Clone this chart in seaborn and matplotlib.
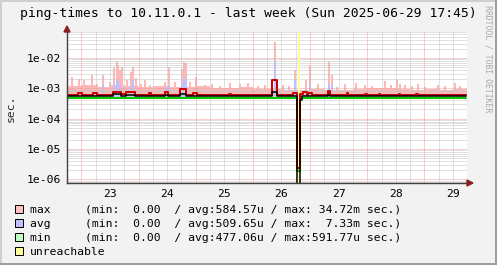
import numpy as np
import pandas as pd
import matplotlib
matplotlib.use("Agg")
import matplotlib.pyplot as plt
from matplotlib.patches import Rectangle, Polygon
import seaborn as sns

# ---------------- data ----------------
TITLE = "ping-times to 10.11.0.1 - last week (Sun 2025-06-29 17:45)"
Y_LABEL = "sec."
WATERMARK = "RRDTOOL / TOBI OETIKER"

# time axis: fractional day of month (June 2025)
span_start = 22.748
span_end = 29.745
day_labels = ["23", "24", "25", "26", "27", "28", "29"]
y_decades = [1e-6, 1e-5, 1e-4, 1e-3, 1e-2]
y_decade_labels = ["1e-06", "1e-05", "1e-04", "1e-03", "1e-02"]

# consolidated lines, step series (change time [day], value [µs]; nan = unknown)
max_days = [22.748, 22.94, 23.01, 23.20, 23.27, 23.55, 23.70, 23.78, 23.93, 24.18, 24.22,
            24.46, 24.51, 24.72, 24.83, 24.95, 25.02, 25.58, 25.62, 26.33, 26.42, 26.70,
            26.77, 26.785, 26.83, 26.87, 26.94, 26.96, 27.03, 27.31, 27.34, 27.64, 27.67, 27.96,
            27.99, 28.20, 28.23, 28.55, 28.58, 28.85, 28.88, 29.72]
max_us = [620, 720, 620, 700, 620, 760, 650, 740, 620, 680, 620,
          760, 620, 950, 620, 700, 620, 660, 620, 1880, 620, 700,
          2.3, np.nan, 640, 770, 620, 690, 620, 830, 620, 680, 620, 660,
          620, 670, 620, 670, 620, 660, 620, 620]

avg_days = [22.748, 23.55, 23.70, 23.78, 23.93, 24.46, 24.51, 24.72, 24.83, 26.33, 26.42,
            26.77, 26.785, 26.83, 26.85, 27.31, 27.34, 29.72]
avg_us = [545, 640, 560, 620, 545, 600, 545, 650, 545, 740, 545,
          0.1, np.nan, 410, 545, 600, 545, 545]

min_days = [22.748, 26.77, 26.785, 26.83, 29.72]
min_us = [470, 1.8, np.nan, 470, 470]

# raw max background level, 6-hour blocks starting 22.75
fuzz_start = 22.75
fuzz_hours = 6
fuzz_us = [1150, 1250, 1100, 1300, 1150, 1100, 1200, 1100, 1100, 1150, 1050, 1000, 1100, 950,
           950, 900, 900, 950, 880, 900, 950, 1000, 1000, 950, 900, 950, 900, 950]

# raw spikes (time [day], raw max [µs], raw avg [µs], 0 = not visible)
spike_days = [22.836, 22.958, 23.045, 23.115, 23.185, 23.273, 23.378, 23.5, 23.570, 23.614,
              23.640, 23.675, 23.710, 23.797, 23.867, 23.911, 23.955, 24.042, 24.112, 24.199,
              24.339, 24.462, 24.531, 24.636, 24.753, 24.794, 24.837, 24.899, 25.003, 25.161,
              25.283, 25.423, 25.598, 25.773, 25.913, 26.087, 26.210, 26.385, 26.524, 26.629,
              26.734, 26.927, 27.005, 27.136, 27.329, 27.381, 27.469, 27.608, 27.801, 27.958,
              28.080, 28.308, 28.413, 28.512, 28.570, 28.657, 28.780, 28.885, 29.007, 29.234,
              29.357, 29.531, 29.619]
spike_max_us = [2400, 2000, 1900, 1300, 2750, 1400, 2750, 1600, 5000, 8000,
                6000, 4000, 5000, 1900, 3500, 5000, 2200, 1400, 1900, 1300,
                1200, 1600, 5000, 1600, 4300, 7100, 6800, 1600, 2360, 1300,
                1400, 1150, 1500, 1400, 1500, 1200, 1300, 34720, 1300, 1200,
                4000, 1900, 5400, 1350, 7400, 2750, 1100, 1350, 1500, 1300,
                1150, 1700, 1300, 1900, 1350, 1300, 1150, 1350, 1100, 1250,
                1150, 1500, 1150]
spike_avg_us = [0, 0, 0, 0, 0, 0, 1300, 0, 1500, 1900,
                1700, 1300, 0, 0, 1200, 1900, 0, 0, 0, 0,
                0, 1100, 1200, 0, 1500, 1900, 2300, 0, 0, 0,
                0, 0, 0, 0, 0, 0, 0, 7330, 0, 0,
                1900, 0, 1500, 0, 1400, 1300, 0, 0, 0, 0,
                0, 0, 0, 0, 0, 0, 0, 0, 0, 0,
                0, 0, 0]

unreach_start = 26.785
unreach_end = 26.83

legend_names = ["max", "avg", "min", "unreachable"]
stat_min = ["0.00", "0.00", "0.00"]
stat_avg = ["584.57u", "509.65u", "477.06u"]
stat_max = ["34.72m", "7.33m", "591.77u"]

# ---------------- style ----------------
C_BACK = "#F2F2F2"
C_MAX_AREA = "#FFC0C0"
C_MAX_FILL = "#FFB8B8"
C_AVG_AREA = "#C0C0FF"
C_MIN_AREA = "#C0FFC0"
C_UNREACH = "#FFFF99"
C_MAX_LINE = "#CC0000"
C_AVG_LINE = "#000000"
C_MIN_LINE = "#00CC00"
C_GRID = "#C4C4C4"
C_MGRID = "#EEA0A0"
C_AXIS = "#404040"
C_ARROW = "#8B2020"

sns.set_style("white")
plt.rcParams["font.family"] = ["DejaVu Sans Mono"]
FS = 8.2

W, H = 497, 265
fig = plt.figure(figsize=(W / 100, H / 100), dpi=100, facecolor=C_BACK)

def fx(px):
    return px / W

def fy(py):
    return (H - py) / H

ax = fig.add_axes([fx(67), fy(183), 400 / W, 151 / H])
ax.set_facecolor("white")
ax.set_yscale("log")
ax.set_xlim(span_start, span_end)
ax.set_ylim(7.5e-7, 7.2e-2)

us = 1e-6

# grid
midnights = list(range(int(np.ceil(span_start)), int(span_end) + 1))
six_h = [t for t in np.arange(np.ceil(span_start * 4) / 4, span_end, 0.25)]
for t in six_h:
    if abs(t - round(t)) > 1e-6:
        ax.axvline(t, color=C_GRID, lw=0.72, ls=(0, (1, 1)), zorder=2.5)
for t in midnights:
    ax.axvline(t, color=C_MGRID, lw=0.72, ls=(0, (1, 1)), zorder=2.6)
minor_y = [k * d for d in [1e-7] + y_decades for k in range(2, 10)]
minor_y = [v for v in minor_y if 7.5e-7 < v < 7.2e-2]
for v in minor_y:
    ax.axhline(v, color=C_GRID, lw=0.72, ls=(0, (1, 1)), zorder=2.5)
for v in y_decades:
    ax.axhline(v, color=C_MGRID, lw=0.72, ls=(0, (1, 1)), zorder=2.6)

# raw max background area
fz_x = list(fuzz_start + np.arange(len(fuzz_us)) * fuzz_hours / 24.0) + [span_end]
fz_y = [v * us for v in fuzz_us] + [fuzz_us[-1] * us]
base = min_us[0] * us
ax.fill_between(fz_x, base, fz_y, step="post", color=C_MAX_FILL, lw=0, zorder=1)

# raw spikes
sd = np.array(spike_days)
ax.vlines(sd, base, np.array(spike_max_us) * us, color=C_MAX_FILL, lw=1.45, zorder=1.1)
sa = np.array(spike_avg_us)
m = sa > 0
ax.vlines(sd[m], base, sa[m] * us, color=C_AVG_AREA, lw=1.45, zorder=1.2)

# consolidated lines
df_min = pd.DataFrame({"day": min_days, "sec": np.array(min_us) * us})
df_max = pd.DataFrame({"day": max_days, "sec": np.array(max_us) * us})
df_avg = pd.DataFrame({"day": avg_days, "sec": np.array(avg_us) * us})
sns.lineplot(data=df_min, x="day", y="sec", ax=ax, color=C_MIN_LINE, lw=1.44,
             drawstyle="steps-post", estimator=None, sort=False, zorder=3)
sns.lineplot(data=df_max, x="day", y="sec", ax=ax, color=C_MAX_LINE, lw=1.44,
             drawstyle="steps-post", estimator=None, sort=False, zorder=3.1)
sns.lineplot(data=df_avg, x="day", y="sec", ax=ax, color=C_AVG_LINE, lw=1.1,
             drawstyle="steps-post", estimator=None, sort=False, zorder=3.2)

# unreachable band
ax.axvspan(unreach_start, unreach_end, color=C_UNREACH, lw=0, zorder=2.9)

# axes / ticks
ax.set_xlabel("")
ax.set_ylabel("")
for s in ["top", "right"]:
    ax.spines[s].set_visible(False)
for s in ["left", "bottom"]:
    ax.spines[s].set_color(C_AXIS)
    ax.spines[s].set_linewidth(1.0)
    ax.spines[s].set_zorder(4)

label_pos = [int(d) + 0.5 for d in day_labels]
ax.set_xticks(label_pos, day_labels)
ax.set_xticks(six_h, minor=True)
ax.set_yticks(y_decades, y_decade_labels)
ax.set_yticks(minor_y, minor=True)
ax.yaxis.set_minor_formatter(matplotlib.ticker.NullFormatter())
ax.tick_params(axis="x", which="major", length=0, pad=4.2, labelsize=FS, colors="black")
ax.tick_params(axis="x", which="minor", length=3, width=0.7, direction="inout", color=C_AXIS)
ax.tick_params(axis="y", which="major", length=3, width=0.7, direction="inout",
               color=C_AXIS, pad=3.0, labelsize=FS, labelcolor="black")
ax.tick_params(axis="y", which="minor", length=2, width=0.7, direction="inout", color=C_AXIS)
ax.grid(False)

# arrows
fig.add_artist(Polygon([(fx(64), fy(32)), (fx(70), fy(32)), (fx(67), fy(26))],
                       closed=True, color=C_ARROW, transform=fig.transFigure, zorder=5))
fig.add_artist(Polygon([(fx(467), fy(180)), (fx(467), fy(186)), (fx(473), fy(183))],
                       closed=True, color=C_ARROW, transform=fig.transFigure, zorder=5))

# texts
fig.text(fx(248), fy(17.5), TITLE, ha="center", va="baseline", fontsize=9.36, color="black")
fig.text(fx(11), fy(108), Y_LABEL, ha="center", va="center", rotation=90, fontsize=FS)
fig.text(fx(488), fy(59), WATERMARK, ha="center", va="center", rotation=270,
         fontsize=5.9, color="#A8A8A8")

# legend
colors = [C_MAX_AREA, C_AVG_AREA, C_MIN_AREA, C_UNREACH]
for i, name in enumerate(legend_names):
    base_y = 213.3 + 14 * i
    fig.add_artist(Rectangle((fx(15), fy(base_y)), 8 / W, 8 / H, facecolor=colors[i],
                             edgecolor="black", lw=0.72, transform=fig.transFigure))
    if i < 3:
        txt = f"{name:<8}(min:{stat_min[i]:>6}  / avg:{stat_avg[i]:>7} / max:{stat_max[i]:>7} sec.)"
    else:
        txt = name
    fig.text(fx(30), fy(base_y), txt, ha="left", va="baseline", fontsize=FS, color="black")

# frame shading
fig.add_artist(Rectangle((0, 0), fx(2), 1, color="#CFCFCF", transform=fig.transFigure, lw=0))
fig.add_artist(Rectangle((0, fy(2)), 1, 2 / H, color="#CFCFCF", transform=fig.transFigure, lw=0))
fig.add_artist(Rectangle((fx(495), 0), 2 / W, 1, color="#9E9E9E", transform=fig.transFigure, lw=0))
fig.add_artist(Rectangle((0, 0), 1, 2 / H, color="#9E9E9E", transform=fig.transFigure, lw=0))

fig.savefig("out.png", dpi=100, facecolor=C_BACK)
